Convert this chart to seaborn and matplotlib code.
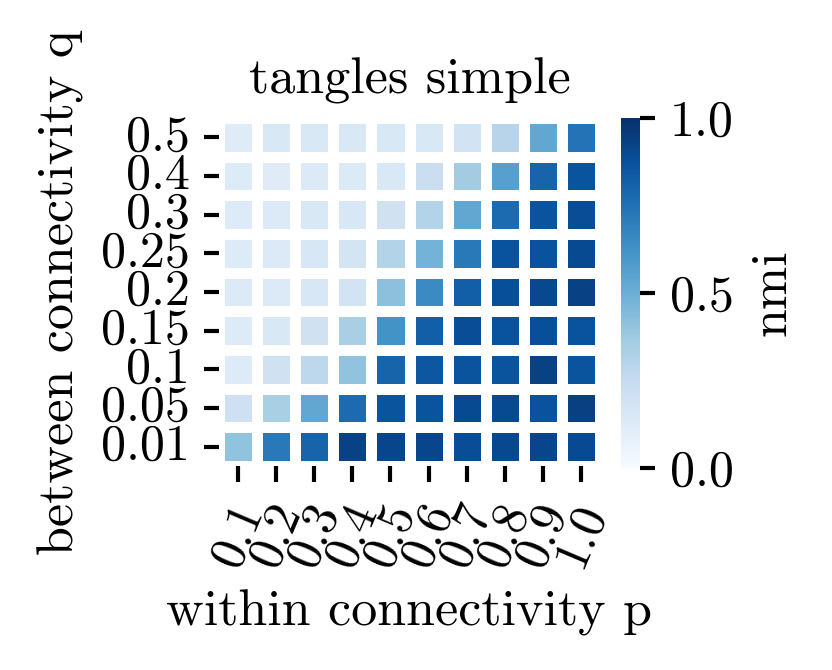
import numpy as np
import pandas as pd
import seaborn as sns
import matplotlib.pyplot as plt

# within connectivity p (columns) and between connectivity q (rows, top to bottom)
p_values = ['0.1', '0.2', '0.3', '0.4', '0.5', '0.6', '0.7', '0.8', '0.9', '1.0']
q_values = ['0.5', '0.4', '0.3', '0.25', '0.2', '0.15', '0.1', '0.05', '0.01']

nmi_q050 = [0.12, 0.15, 0.15, 0.15, 0.15, 0.15, 0.19, 0.30, 0.53, 0.74]
nmi_q040 = [0.13, 0.12, 0.14, 0.14, 0.15, 0.23, 0.36, 0.56, 0.80, 0.86]
nmi_q030 = [0.13, 0.14, 0.15, 0.16, 0.20, 0.31, 0.53, 0.77, 0.86, 0.89]
nmi_q025 = [0.13, 0.14, 0.16, 0.18, 0.31, 0.48, 0.72, 0.87, 0.87, 0.90]
nmi_q020 = [0.14, 0.14, 0.16, 0.19, 0.42, 0.65, 0.82, 0.88, 0.91, 0.93]
nmi_q015 = [0.13, 0.15, 0.20, 0.34, 0.62, 0.82, 0.89, 0.87, 0.88, 0.87]
nmi_q010 = [0.13, 0.20, 0.28, 0.41, 0.80, 0.85, 0.86, 0.86, 0.93, 0.86]
nmi_q005 = [0.21, 0.34, 0.53, 0.77, 0.86, 0.86, 0.90, 0.90, 0.87, 0.94]
nmi_q001 = [0.41, 0.72, 0.80, 0.93, 0.92, 0.92, 0.89, 0.91, 0.92, 0.90]

data = pd.DataFrame([nmi_q050, nmi_q040, nmi_q030, nmi_q025, nmi_q020,
                     nmi_q015, nmi_q010, nmi_q005, nmi_q001],
                    index=q_values, columns=p_values)

sns.set_style('ticks')
plt.rcParams['font.family'] = ['serif']
plt.rcParams['font.serif'] = ['cmr10', 'DejaVu Serif']
plt.rcParams['mathtext.fontset'] = 'cm'
plt.rcParams['font.size'] = 12
plt.rcParams['axes.titlesize'] = 12.5
plt.rcParams['axes.labelsize'] = 12.5
for key in ['text.color', 'axes.labelcolor', 'xtick.color', 'ytick.color']:
    plt.rcParams[key] = 'black'
plt.rcParams['xtick.major.width'] = 1.0
plt.rcParams['ytick.major.width'] = 1.0
plt.rcParams['xtick.major.size'] = 3.8
plt.rcParams['ytick.major.size'] = 3.6

fig = plt.figure(figsize=(832 / 300, 670 / 300), dpi=300)
ax = fig.add_axes([219 / 832, 1 - 466 / 670, 381 / 832, 348 / 670])
cax = fig.add_axes([621 / 832, 1 - 468 / 670, 19 / 832, 350 / 670])
ax = sns.heatmap(data, cmap='Blues', vmin=0, vmax=1,
                 linewidths=2.2, linecolor='white', ax=ax, cbar_ax=cax,
                 xticklabels=True, yticklabels=True,
                 cbar_kws={'label': 'nmi', 'ticks': [0, 0.5, 1.0]})
ax.set_title('tangles simple')
ax.set(xlabel='within connectivity p', ylabel='between connectivity q')
plt.setp(ax.get_xticklabels(), rotation=67)
plt.setp(ax.get_yticklabels(), rotation=0)
cbar = ax.collections[0].colorbar
cbar.outline.set_visible(False)
cbar.ax.set_yticklabels(['0.0', '0.5', '1.0'])
fig.savefig('out.png', dpi=300)
